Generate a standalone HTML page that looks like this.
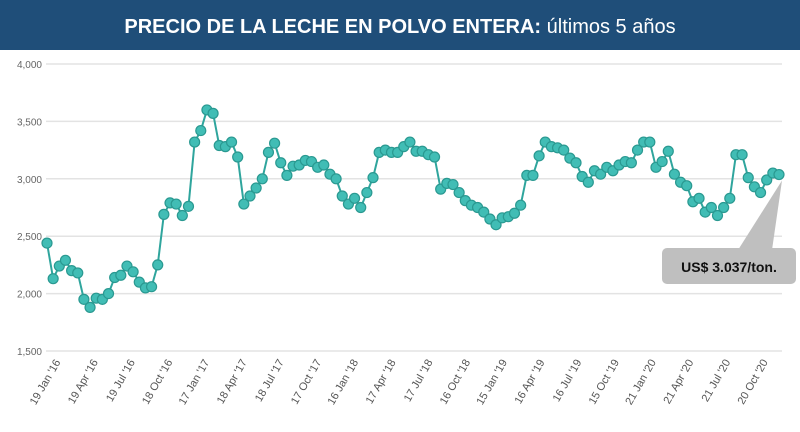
<!DOCTYPE html>
<html><head><meta charset="utf-8"><style>
body{margin:0;width:800px;height:432px;background:#fff;overflow:hidden;font-family:"Liberation Sans",sans-serif}
#title{position:absolute;left:0;top:0;width:800px;height:50px;background:#1f4e79;color:#fff;font-size:20px;line-height:54px;text-align:center}
</style></head><body>
<div id="title"><b>PRECIO DE LA LECHE EN POLVO ENTERA:</b> últimos 5 años</div>
<svg id="c" width="800" height="432" style="position:absolute;left:0;top:0"></svg>
<script>
const values=[2440,2130,2240,2290,2200,2180,1950,1880,1960,1950,2000,2140,2160,2240,2190,2100,2050,2060,2250,2690,2790,2780,2680,2760,3320,3420,3600,3570,3290,3280,3320,3190,2780,2850,2920,3000,3230,3310,3140,3030,3110,3120,3160,3150,3100,3120,3040,3000,2850,2780,2830,2750,2880,3010,3230,3250,3230,3230,3280,3320,3240,3240,3210,3190,2910,2960,2950,2880,2810,2770,2750,2710,2650,2600,2660,2670,2700,2770,3030,3030,3200,3320,3280,3270,3250,3180,3140,3020,2970,3070,3040,3100,3070,3120,3150,3140,3250,3320,3320,3100,3150,3240,3040,2970,2940,2800,2830,2710,2750,2680,2750,2830,3210,3210,3010,2930,2880,2990,3050,3037];
const yTicks=[1500,2000,2500,3000,3500,4000];
const tickLabels=["19 Jan '16","19 Apr '16","19 Jul '16","18 Oct '16","17 Jan '17","18 Apr '17","18 Jul '17","17 Oct '17","16 Jan '18","17 Apr '18","17 Jul '18","16 Oct '18","15 Jan '19","16 Apr '19","16 Jul '19","15 Oct '19","21 Jan '20","21 Apr '20","21 Jul '20","20 Oct '20"];
const tickIdx=[1.6,7.7,13.7,19.8,25.8,31.9,37.9,44,50,56.1,62.1,68.2,74.2,80.3,86.3,92.4,98.4,104.5,110.5,116.6];
const NS="http://www.w3.org/2000/svg",svg=document.getElementById('c');
const x0=47,x1=779,yBase=351,yTop=64;
const xs=i=>x0+(x1-x0)*i/(values.length-1);
const ys=v=>yBase-(v-1500)/(4000-1500)*(yBase-yTop);
function mk(t,a){const e=document.createElementNS(NS,t);for(const k in a)e.setAttribute(k,a[k]);svg.appendChild(e);return e;}
yTicks.forEach(v=>{
 const l=mk('line',{x1:46,x2:782,y1:ys(v),y2:ys(v),stroke:'#e3e3e3','stroke-width':1.5});
 
 
 const t=mk('text',{x:42,y:ys(v)+4,'text-anchor':'end','font-size':10,fill:'#666'});
 t.textContent=v.toLocaleString('en-US');
 
 
});
tickLabels.forEach((s,k)=>{
 const x=xs(tickIdx[k])+4,y=362;
 const t=mk('text',{x:x,y:y,'text-anchor':'end','font-size':11,fill:'#555',transform:`rotate(-60 ${x} ${y})`});
 t.textContent=s;
 
 
});
const line=mk('polyline',{points:values.map((v,i)=>xs(i)+','+ys(v)).join(' '),fill:'none',stroke:'#2fa59d','stroke-width':2});


values.forEach((v,i)=>{
 const c=mk('circle',{cx:xs(i),cy:ys(v),r:5,fill:'#41bdb5',stroke:'#2a9991','stroke-width':1.2});
 
 
});
const lx=xs(values.length-1),ly=ys(values[values.length-1]);
const tri=mk('polygon',{points:`${lx+3},${ly+6} 738,250 772,250`,fill:'#bfbfbf'});


const box=mk('rect',{x:662,y:248,width:134,height:36,rx:5,fill:'#bfbfbf'});


const ct=mk('text',{x:729,y:272,'text-anchor':'middle','font-size':14,'font-weight':'bold',fill:'#111'});
ct.textContent='US$ 3.037/ton.';


</script>
</body></html>
